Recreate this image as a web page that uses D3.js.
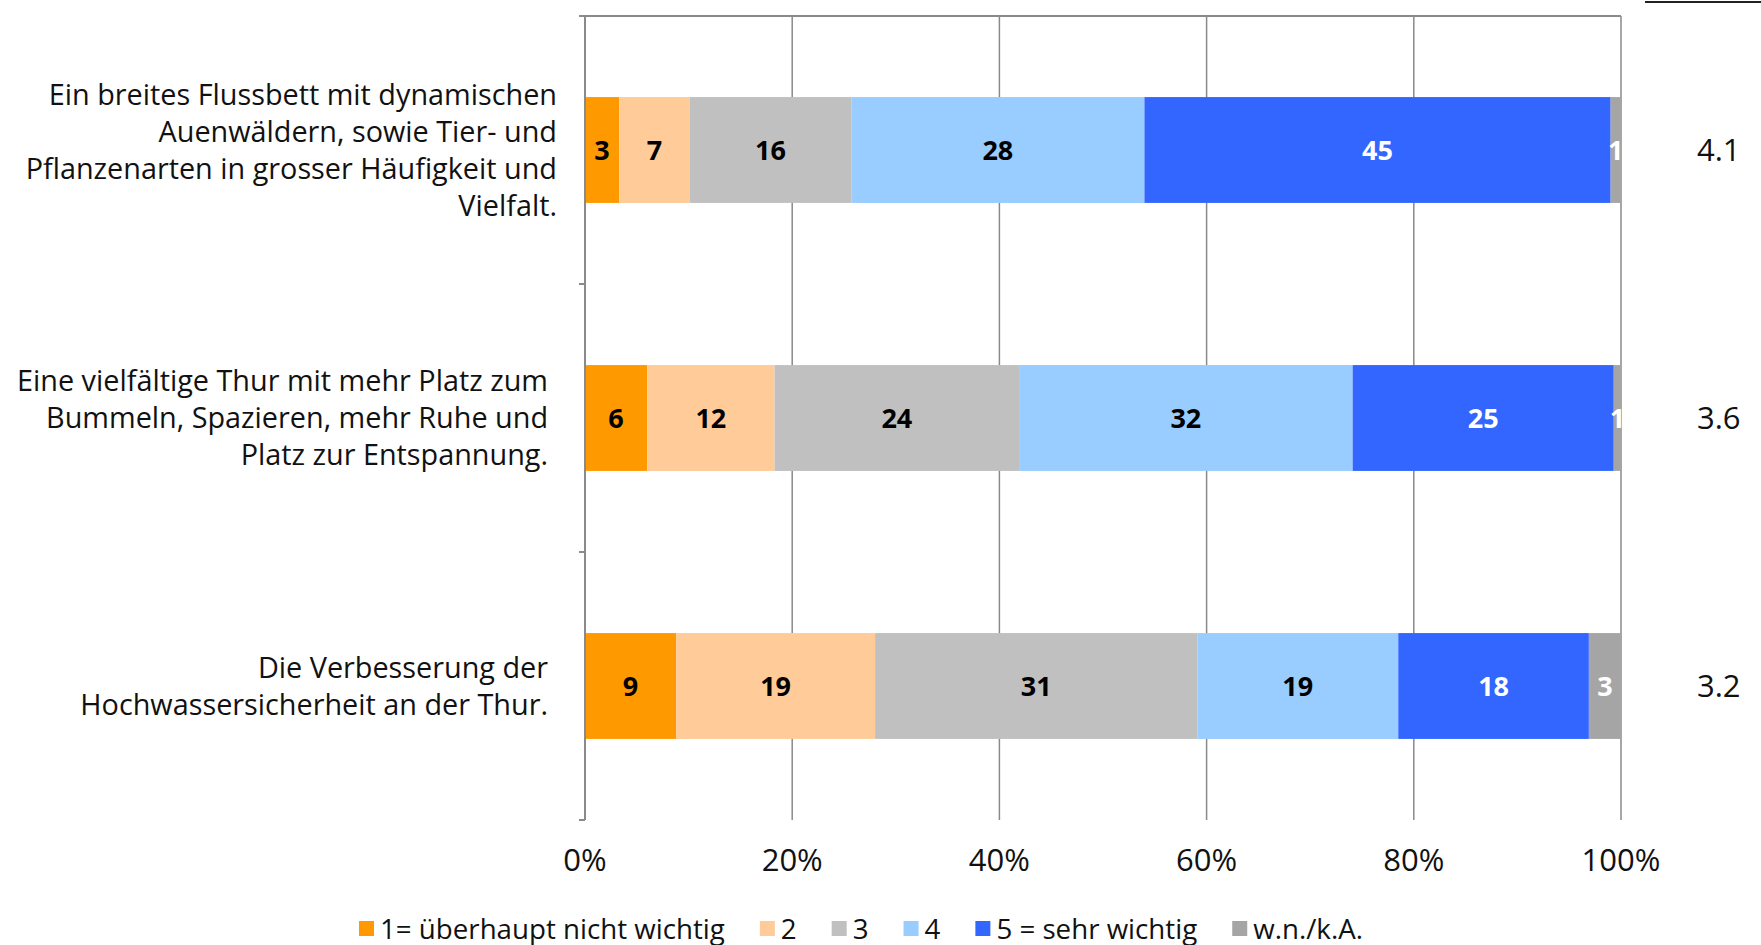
<!DOCTYPE html>
<html>
<head>
<meta charset="utf-8">
<script src="https://cdn.jsdelivr.net/npm/d3@7"></script>
<style>
  body { margin: 0; background: #fff; }
  svg text { font-family: "Open Sans", "Noto Sans", sans-serif; }
</style>
</head>
<body>
<svg id="chart" width="1761" height="945"></svg>
<script>
// data (percent shares per answer)
var categories = [
  ["Ein breites Flussbett mit dynamischen", "Auenwäldern, sowie Tier- und", "Pflanzenarten in grosser Häufigkeit und", "Vielfalt."],
  ["Eine vielfältige Thur mit mehr Platz zum", "Bummeln, Spazieren, mehr Ruhe und", "Platz zur Entspannung."],
  ["Die Verbesserung der", "Hochwassersicherheit an der Thur."]
];
var seriesNames = ["1= überhaupt nicht wichtig", "2", "3", "4", "5 = sehr wichtig", "w.n./k.A."];
var answer1 = [3.3, 6.0, 8.8];
var answer2 = [6.8, 12.3, 19.2];
var answer3 = [15.6, 23.6, 31.1];
var answer4 = [28.3, 32.2, 19.4];
var answer5 = [45.0, 25.2, 18.4];
var noAnswer = [1.0, 0.7, 3.1];
var means = ["4.1", "3.6", "3.2"];
var xTicks = [0, 20, 40, 60, 80, 100];

var colors = ["#ff9900", "#ffcc99", "#c0c0c0", "#99ccff", "#3366ff", "#a5a5a5"];
var labelColors = ["#000", "#000", "#000", "#000", "#fff", "#fff"];

var series = [answer1, answer2, answer3, answer4, answer5, noAnswer];

var svg = d3.select("#chart");

var x0 = 585, x1 = 1621, yTop = 16, yBottom = 820;

var x = d3.scaleLinear().domain([0, 100]).range([x0, x1]);
var y = d3.scaleBand()
  .domain(d3.range(categories.length))
  .range([yTop, yBottom])
  .paddingInner(0.605)
  .paddingOuter(0.3025);
var step = y.step();

// stack the rows
var rows = categories.map(function(c, i) {
  var obj = {};
  series.forEach(function(s, k) { obj["s" + k] = s[i]; });
  return obj;
});
var stack = d3.stack().keys(series.map(function(s, k) { return "s" + k; }));
var stacked = stack(rows);

// gridlines
svg.append("g")
  .selectAll("line")
  .data(xTicks)
  .enter()
  .append("line")
    .attr("x1", function(d) { return x(d); })
    .attr("x2", function(d) { return x(d); })
    .attr("y1", yTop)
    .attr("y2", yBottom)
    .style("stroke", "#8a8a8a")
    .style("stroke-width", 1.5);

// top border line
svg.append("line")
  .attr("x1", x0 - 6).attr("x2", x1)
  .attr("y1", yTop).attr("y2", yTop)
  .style("stroke", "#8a8a8a")
  .style("stroke-width", 2);

// bars
var layer = svg.append("g")
  .selectAll("g")
  .data(stacked)
  .enter()
  .append("g")
    .style("fill", function(d, i) { return colors[i]; });

layer.selectAll("rect")
  .data(function(d) { return d; })
  .enter()
  .append("rect")
    .attr("x", function(d) { return x(d[0]); })
    .attr("width", function(d) { return x(d[1]) - x(d[0]); })
    .attr("y", function(d, i) { return y(i); })
    .attr("height", y.bandwidth());

// value labels
stacked.forEach(function(s, k) {
  svg.append("g")
    .selectAll("text")
    .data(s)
    .enter()
    .append("text")
      .attr("x", function(d) { return (x(d[0]) + x(d[1])) / 2; })
      .attr("y", function(d, i) { return y(i) + y.bandwidth() / 2; })
      .attr("dy", "0.36em")
      .attr("text-anchor", "middle")
      .style("font-size", "27px")
      .style("font-weight", "bold")
      .style("fill", labelColors[k])
      .text(function(d) { return Math.round(d[1] - d[0]); });
});

// left axis with ticks at band edges
svg.append("line")
  .attr("x1", x0).attr("x2", x0)
  .attr("y1", yTop).attr("y2", yBottom)
  .style("stroke", "#8a8a8a")
  .style("stroke-width", 2);
svg.append("g")
  .selectAll("line")
  .data(d3.range(categories.length + 1))
  .enter()
  .append("line")
    .attr("x1", x0 - 6).attr("x2", x0)
    .attr("y1", function(d) { return yTop + d * step; })
    .attr("y2", function(d) { return yTop + d * step; })
    .style("stroke", "#8a8a8a")
    .style("stroke-width", 2);

// category labels
var labelRight = [557, 548, 548];
var lineH = 37;
categories.forEach(function(lines, i) {
  var cy = y(i) + y.bandwidth() / 2;
  var t = svg.append("text")
    .attr("text-anchor", "end")
    .style("font-size", "28.8px")
    .style("fill", "#111");
  lines.forEach(function(l, j) {
    t.append("tspan")
      .attr("x", labelRight[i])
      .attr("y", cy + (j - (lines.length - 1) / 2) * lineH)
      .attr("dy", "0.36em")
      .text(l);
  });
});

// mean values on the right
svg.append("g")
  .selectAll("text")
  .data(means)
  .enter()
  .append("text")
    .attr("x", 1697)
    .attr("y", function(d, i) { return y(i) + y.bandwidth() / 2; })
    .attr("dy", "0.36em")
    .style("font-size", "31px")
    .style("fill", "#111")
    .text(function(d) { return d; });

// x tick labels
svg.append("g")
  .selectAll("text")
  .data(xTicks)
  .enter()
  .append("text")
    .attr("x", function(d) { return x(d); })
    .attr("y", 860)
    .attr("dy", "0.36em")
    .attr("text-anchor", "middle")
    .style("font-size", "31px")
    .style("fill", "#111")
    .text(function(d) { return d + "%"; });

// legend
var legend = svg.append("g");
var lx = 359;
seriesNames.forEach(function(name, k) {
  legend.append("rect")
    .attr("x", lx).attr("y", 921)
    .attr("width", 15).attr("height", 15)
    .style("fill", colors[k]);
  var t = legend.append("text")
    .attr("x", lx + 21)
    .attr("y", 929)
    .attr("dy", "0.36em")
    .style("font-size", "27.7px")
    .style("fill", "#111")
    .text(name);
  lx += 21 + t.node().getComputedTextLength() + 35;
});

// short line at top right
svg.append("line")
  .attr("x1", 1645).attr("x2", 1761)
  .attr("y1", 2).attr("y2", 2)
  .style("stroke", "#222")
  .style("stroke-width", 2);
</script>
</body>
</html>
